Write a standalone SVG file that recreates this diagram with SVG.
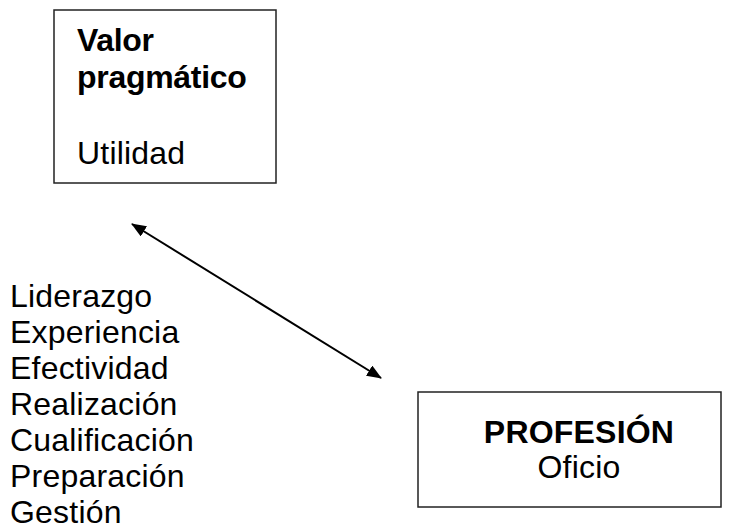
<svg xmlns="http://www.w3.org/2000/svg" width="734" height="532" viewBox="0 0 734 532">
<style>
.box{fill:#fff;stroke:#222;stroke-width:1.5}
.t{font-family:"Liberation Sans",Arial,sans-serif;font-size:32px;letter-spacing:0.2px;fill:#000}
.b{font-weight:bold}
.n{letter-spacing:-0.3px}
.conn{stroke:#000;stroke-width:2;fill:none}
</style>
<defs>
<marker id="ah" markerWidth="15" markerHeight="12" refX="14" refY="6" orient="auto-start-reverse" markerUnits="userSpaceOnUse" viewBox="0 0 15 12">
<path d="M0,0 L15,6 L0,12 z" fill="#000"/>
</marker>
</defs>
<rect width="734" height="532" fill="#fff"/>
<g id="valor">
<rect class="box" x="54" y="10" width="222" height="173"/>
<text class="t b n" x="77" y="51">Valor</text>
<text class="t b n" x="77" y="88">pragmático</text>
<text class="t" x="77" y="164">Utilidad</text>
</g>
<g id="profesion">
<rect class="box" x="418" y="392" width="303" height="115"/>
<text class="t b" x="579" y="443" text-anchor="middle">PROFESIÓN</text>
<text class="t" x="579" y="478" text-anchor="middle">Oficio</text>
</g>
<g id="lista">
<text class="t" x="10" y="307">Liderazgo</text>
<text class="t" x="10" y="343">Experiencia</text>
<text class="t" x="10" y="379">Efectividad</text>
<text class="t" x="10" y="415">Realización</text>
<text class="t" x="10" y="451">Cualificación</text>
<text class="t" x="10" y="487">Preparación</text>
<text class="t" x="10" y="523">Gestión</text>
</g>
<g id="connectors">
<line class="conn" x1="132" y1="224" x2="381" y2="378" marker-start="url(#ah)" marker-end="url(#ah)"/>
</g>
</svg>
